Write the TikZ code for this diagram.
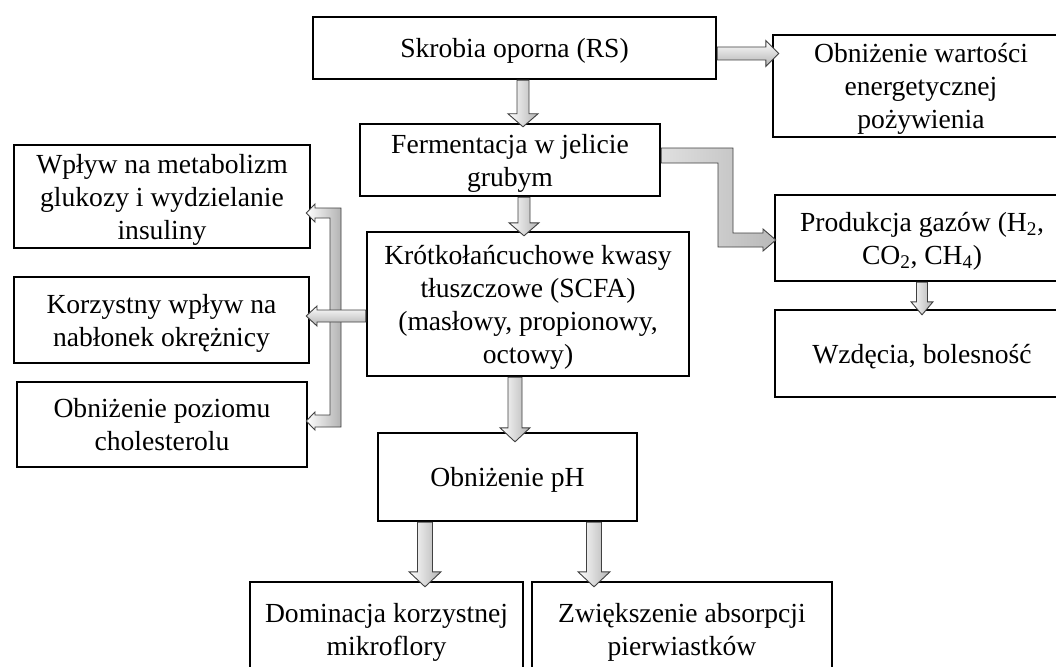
\documentclass[tikz,border=0pt]{standalone}
\usepackage{fontspec}
\setmainfont{Liberation Serif}
\usetikzlibrary{calc}
\tikzset{
  box/.style={draw=black, line width=2.4pt, fill=white, align=center, inner sep=0pt,
    text depth=0pt, font=\fontsize{27.6}{33}\selectfont},
  vshade/.style={left color=white, right color=gray!60, draw=black!75, line width=0.9pt, line join=miter},
  hshade/.style={top color=white, bottom color=gray!60, draw=black!75, line width=0.9pt, line join=miter},
  eshade/.style={left color=gray!25, right color=gray!55, draw=black!75, line width=0.9pt, line join=miter}
}
% vertical block arrow: #1 x, #2 from, #3 to, #4 overlap, #5 shaft half, #6 head half, #7 head length
\newcommand\vblk[7]{%
\path[vshade] let \p1=(#1,0 |- #2), \p2=(#1,0 |- #3) in
 (\x1-#5pt,\y1) -- (\x1+#5pt,\y1) -- (\x1+#5pt,\y2-#4pt+#7pt) -- (\x1+#6pt,\y2-#4pt+#7pt)
 -- (\x1,\y2-#4pt) -- (\x1-#6pt,\y2-#4pt+#7pt) -- (\x1-#5pt,\y2-#4pt+#7pt) -- cycle;}
% horizontal block arrow (to the right): #1 y, #2 from, #3 to, #4 overlap, #5 shaft half, #6 head half, #7 head length
\newcommand\hblk[7]{%
\path[hshade] let \p1=(#2 |- 0,#1), \p2=(#3 |- 0,#1) in
 (\x1,\y1+#5pt) -- (\x2+#4pt-#7pt,\y1+#5pt) -- (\x2+#4pt-#7pt,\y1+#6pt) -- (\x2+#4pt,\y1)
 -- (\x2+#4pt-#7pt,\y1-#6pt) -- (\x2+#4pt-#7pt,\y1-#5pt) -- (\x1,\y1-#5pt) -- cycle;}
\begin{document}
\begin{tikzpicture}[x=1pt, y=-1pt]
\useasboundingbox (0,0) rectangle (1056,666);
\clip (0,0) rectangle (1056,666);
\fill[white] (0,0) rectangle (1056,666);
% boxes
\node[box, minimum width=403pt, minimum height=62pt] (b1) at (514.5,48) {Skrobia oporna (RS)};
\node[box, minimum width=296pt, minimum height=102pt] (b4) at (921,86) {Obniżenie wartości\\energetycznej\\pożywienia};
\node[box, minimum width=300pt, minimum height=72pt] (b2) at (510,160) {Fermentacja w jelicie\\grubym};
\node[box, minimum width=322pt, minimum height=144pt] (b3) at (528,304) {Krótkołańcuchowe kwasy\\tłuszczowe (SCFA)\\(masłowy, propionowy,\\octowy)};
\node[box, minimum width=294pt, minimum height=86pt] (b5) at (922,238) {Produkcja gazów (H\textsubscript{2},\\CO\textsubscript{2}, CH\textsubscript{4})};
\node[box, minimum width=294pt, minimum height=87pt] (b6) at (922,353.5) {Wzdęcia, bolesność};
\node[box, minimum width=296pt, minimum height=103pt] (l1) at (162,196.5) {Wpływ na metabolizm\\glukozy i wydzielanie\\insuliny};
\node[box, minimum width=295pt, minimum height=86pt] (l2) at (161.5,320) {Korzystny wpływ na\\nabłonek okrężnicy};
\node[box, minimum width=290pt, minimum height=85pt] (l3) at (162,424.5) {Obniżenie poziomu\\cholesterolu};
\node[box, minimum width=259pt, minimum height=88pt] (b7) at (507.5,477) {Obniżenie pH};
\node[box, minimum width=273pt, minimum height=94pt] (b8) at (386.5,629) {Dominacja korzystnej\\mikroflory};
\node[box, minimum width=300pt, minimum height=94pt] (b9) at (682,629) {Zwiększenie absorpcji\\pierwiastków};
% arrows
\hblk{53.5}{b1.east}{b4.west}{7}{6.5}{13}{13}
\vblk{523}{b1.south}{b2.north}{4}{6}{15}{13}
\vblk{524}{b2.south}{b3.north}{5}{6}{15}{13}
\vblk{922}{b5.south}{b6.north}{6}{5.5}{11}{13}
\vblk{515}{b3.south}{b7.north}{10}{7}{15}{14}
\vblk{425}{b7.south}{b8.north}{6}{7.5}{16}{15}
\vblk{594}{b7.south}{b9.north}{6}{7.5}{16}{15}
% elbow arrow to gases
\path[eshade] ($(b2.east)+(0,-12)$) -- (733,148) -- (733,233) -- (763,233) -- (763,229)
  -- ($(b5.west)+(2,2)$) -- (763,251) -- (763,247) -- (718,247) -- (718,163)
  -- ($(b2.east)+(0,3)$) -- cycle;
% left bracket arrow
\path[vshade] (341,208) -- (341,427) -- (315,427) -- (315,430) -- ($(l3.east |- 0,421)+(-2,0)$)
  -- (315,412) -- (315,415) -- (330,415) -- (330,218) -- (315,218) -- (315,222)
  -- ($(l1.east |- 0,213)+(-5,0)$) -- (315,204) -- (315,208) -- cycle;
\path[hshade] ($(b3.west)+(0,6)$) -- (317,310) -- (317,306) -- ($(l2.east)+(-4,-4)$)
  -- (317,326) -- (317,322) -- ($(b3.west)+(0,18)$) -- cycle;
\end{tikzpicture}
\end{document}
